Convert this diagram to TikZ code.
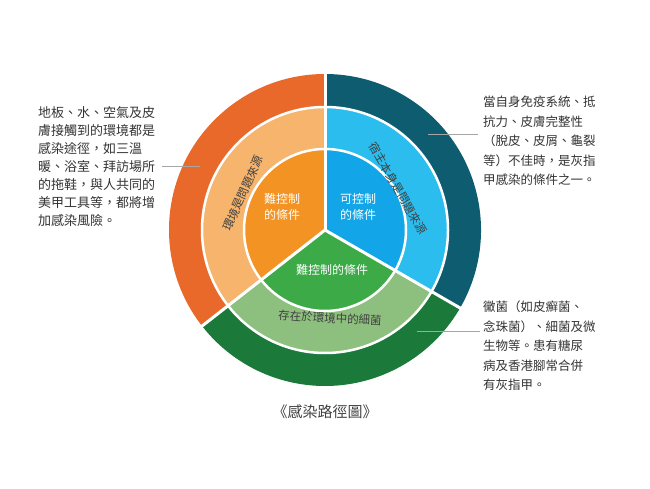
\documentclass[tikz,border=0pt]{standalone}
\usepackage{fontspec}
\setmainfont{Noto Sans CJK TC}
\begin{document}
\begin{tikzpicture}[x=1pt,y=1pt,
  desc/.style={anchor=north west,align=left,inner sep=0pt,font=\fontsize{12.5}{19.5}\selectfont,text=black!80},
  inlab/.style={text=white,align=center,font=\fontsize{12}{16}\selectfont},
  midlab/.style={text=black!75,font=\fontsize{11.5}{14}\selectfont},
  leader/.style={draw=black!35,line width=0.6pt}]
\useasboundingbox (0,0) rectangle (650,488);
\coordinate (c) at (325,258);
\definecolor{oO}{HTML}{E8692A}\definecolor{oT}{HTML}{0E5C70}\definecolor{oG}{HTML}{1B7A3A}
\definecolor{mO}{HTML}{F6B46C}\definecolor{mB}{HTML}{2BBDEE}\definecolor{mG}{HTML}{8DC07E}
\definecolor{iO}{HTML}{F39323}\definecolor{iB}{HTML}{12A5E8}\definecolor{iG}{HTML}{3DAA48}
\foreach \r/\ca/\cb/\cc in {156/oO/oT/oG,123/mO/mB/mG,81/iO/iB/iC}{}
% outer
\fill[oO] (c) -- ++(90:156) arc[start angle=90,end angle=218,radius=156] -- cycle;
\fill[oT] (c) -- ++(-30:156) arc[start angle=-30,end angle=90,radius=156] -- cycle;
\fill[oG] (c) -- ++(218:156) arc[start angle=218,end angle=330,radius=156] -- cycle;
% middle
\fill[mO] (c) -- ++(90:123) arc[start angle=90,end angle=218,radius=123] -- cycle;
\fill[mB] (c) -- ++(-30:123) arc[start angle=-30,end angle=90,radius=123] -- cycle;
\fill[mG] (c) -- ++(218:123) arc[start angle=218,end angle=330,radius=123] -- cycle;
% inner
\fill[iO] (c) -- ++(90:81) arc[start angle=90,end angle=218,radius=81] -- cycle;
\fill[iB] (c) -- ++(-30:81) arc[start angle=-30,end angle=90,radius=81] -- cycle;
\fill[iG] (c) -- ++(218:81) arc[start angle=218,end angle=330,radius=81] -- cycle;
% separators
\draw[white,line width=2.5pt] (c) circle[radius=123] (c) circle[radius=81];
\foreach \a in {90,-30,218} \draw[white,line width=3pt] (c) -- ++(\a:157);
% labels
\node[inlab] (l1) at (282,281) {難控制\\的條件};
\node[inlab] (l2) at (358,281) {可控制\\的條件};
\node[inlab] (l3) at (332,218) {難控制的條件};
\node[midlab,rotate=66] (m1) at (243,295) {環境是問題來源};
\node[midlab,rotate=-60] (m2) at (398,300) {宿主本身是問題來源};
\node[midlab,rotate=-3] (m3) at (330,170) {存在於環境中的細菌};
\node[font=\fontsize{15}{18}\selectfont,text=black!75] (t) at (325,76) {《感染路徑圖》};
% descriptions
\node[desc,font=\fontsize{13}{18}\selectfont] (d1) at (38,382) {地板、水、空氣及皮\\膚接觸到的環境都是\\感染途徑，如三溫\\暖、浴室、拜訪場所\\的拖鞋，與人共同的\\美甲工具等，都將增\\加感染風險。};
\node[desc] (d2) at (483,392) {當自身免疫系統、抵\\抗力、皮膚完整性\\（脫皮、皮屑、龜裂\\等）不佳時，是灰指\\甲感染的條件之一。};
\node[desc] (d3) at (483,187) {黴菌（如皮癬菌、\\念珠菌）、細菌及微\\生物等。患有糖尿\\病及香港腳常合併\\有灰指甲。};
\coordinate (e1) at (200,322); \coordinate (s1) at (162,322);
\coordinate (e2) at (428,354); \coordinate (s2) at (478,354);
\coordinate (e3) at (417,157); \coordinate (s3) at (480,157);
\draw[leader] (s1) -- (e1);
\draw[leader] (e2) -- (s2);
\draw[leader] (e3) -- (s3);
\end{tikzpicture}
\end{document}
